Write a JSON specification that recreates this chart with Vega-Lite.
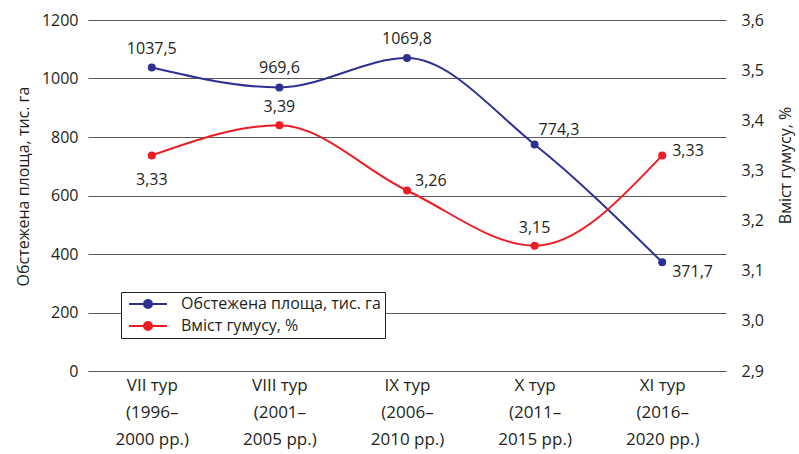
{
  "$schema": "https://vega.github.io/schema/vega-lite/v6.json",
  "width": 638,
  "height": 351,
  "autosize": {"type": "none"},
  "padding": {"left": 88, "top": 20, "right": 73, "bottom": 83},
  "config": {
    "locale": {"number": {"decimal": ",", "thousands": " ", "grouping": [3], "currency": ["", ""]}},
    "font": "Open Sans",
    "view": {"stroke": null},
    "axis": {"labelFontSize": 16, "titleFontSize": 16, "titleFontWeight": "normal", "labelColor": "#231f20", "titleColor": "#231f20", "domain": false, "ticks": false, "titleFont": "Open Sans", "labelFont": "Open Sans"},
    "text": {"font": "Open Sans", "fontSize": 16, "color": "#231f20"}
  },
  "data": {
    "values": [
      {"round": "VII", "tour": "VII тур\n(1996–\n2000 рр.)", "series": "Обстежена площа, тис. га", "value": 1037.5},
      {"round": "VIII", "tour": "VIII тур\n(2001–\n2005 рр.)", "series": "Обстежена площа, тис. га", "value": 969.6},
      {"round": "IX", "tour": "IX тур\n(2006–\n2010 рр.)", "series": "Обстежена площа, тис. га", "value": 1069.8},
      {"round": "X", "tour": "X тур\n(2011–\n2015 рр.)", "series": "Обстежена площа, тис. га", "value": 774.3},
      {"round": "XI", "tour": "XI тур\n(2016–\n2020 рр.)", "series": "Обстежена площа, тис. га", "value": 371.7},
      {"round": "VII", "tour": "VII тур\n(1996–\n2000 рр.)", "series": "Вміст гумусу, %", "value": 3.33},
      {"round": "VIII", "tour": "VIII тур\n(2001–\n2005 рр.)", "series": "Вміст гумусу, %", "value": 3.39},
      {"round": "IX", "tour": "IX тур\n(2006–\n2010 рр.)", "series": "Вміст гумусу, %", "value": 3.26},
      {"round": "X", "tour": "X тур\n(2011–\n2015 рр.)", "series": "Вміст гумусу, %", "value": 3.15},
      {"round": "XI", "tour": "XI тур\n(2016–\n2020 рр.)", "series": "Вміст гумусу, %", "value": 3.33}
    ]
  },
  "encoding": {
    "x": {
      "field": "tour", "type": "nominal", "sort": null,
      "scale": {"type": "point", "padding": 0.5},
      "axis": {"title": null, "labelAngle": 0, "labelExpr": "split(datum.label, '\\n')", "labelLineHeight": 27, "labelPadding": 6, "grid": false, "labelBaseline": "top", "labelFontSize": 17}
    }
  },
  "layer": [
    {
      "transform": [{"filter": {"field": "series", "equal": "Обстежена площа, тис. га"}}],
      "encoding": {
        "y": {
          "field": "value", "type": "quantitative",
          "scale": {"domain": [0, 1200], "nice": false},
          "axis": {"orient": "left", "title": "Обстежена площа, тис. га", "values": [0, 200, 400, 600, 800, 1000, 1200], "format": "d", "grid": true, "gridColor": "#58595b", "gridWidth": 1, "labelPadding": 10, "titlePadding": 10, "titleY": 166}
        }
      },
      "layer": [
        {
          "mark": {"type": "line", "interpolate": "monotone", "strokeWidth": 2},
          "encoding": {
            "color": {
              "field": "series", "type": "nominal",
              "scale": {"domain": ["Обстежена площа, тис. га", "Вміст гумусу, %"], "range": ["#2e3192", "#ed1c24"]},
              "legend": {
                "title": null, "orient": "none", "legendX": 33, "legendY": 272,
                "fillColor": "white", "strokeColor": "#231f20", "padding": 4,
                "labelFontSize": 16, "labelFont": "Open Sans", "labelColor": "#231f20", "labelLimit": 400,
                "symbolType": "M-3.8,0H3.8M-0.8,0A0.8,0.8,0,1,0,0.8,0A0.8,0.8,0,1,0,-0.8,0Z",
                "symbolSize": 100, "symbolStrokeWidth": 2, "rowPadding": 6, "symbolOffset": 15, "labelOffset": 25,
                "encode": {"symbols": {"update": {"fill": {"scale": "color", "field": "value"}, "stroke": {"scale": "color", "field": "value"}}}}
              }
            }
          }
        },
        {"mark": {"type": "point", "filled": true, "size": 64, "opacity": 1, "color": "#2e3192"}},
        {
          "transform": [{"filter": {"field": "round", "oneOf": ["VII", "VIII", "IX"]}}],
          "mark": {"type": "text", "dy": -19, "align": "center"},
          "encoding": {"text": {"field": "value", "type": "quantitative", "format": ".1f"}}
        },
        {
          "transform": [{"filter": {"field": "round", "equal": "X"}}],
          "mark": {"type": "text", "dy": -15, "dx": 4, "align": "left"},
          "encoding": {"text": {"field": "value", "type": "quantitative", "format": ".1f"}}
        },
        {
          "transform": [{"filter": {"field": "round", "equal": "XI"}}],
          "mark": {"type": "text", "dy": 10, "dx": 10, "align": "left"},
          "encoding": {"text": {"field": "value", "type": "quantitative", "format": ".1f"}}
        }
      ]
    },
    {
      "transform": [{"filter": {"field": "series", "equal": "Вміст гумусу, %"}}],
      "encoding": {
        "y": {
          "field": "value", "type": "quantitative",
          "scale": {"domain": [2.9, 3.6], "nice": false, "zero": false},
          "axis": {"orient": "right", "title": "Вміст гумусу, %", "values": [2.9, 3.0, 3.1, 3.2, 3.3, 3.4, 3.5, 3.6], "format": ".1f", "grid": false, "labelPadding": 15, "titlePadding": 14, "titleAngle": 270, "titleBaseline": "top", "titleY": 145}
        }
      },
      "layer": [
        {
          "mark": {"type": "line", "interpolate": "monotone", "strokeWidth": 2},
          "encoding": {"color": {"field": "series", "type": "nominal"}}
        },
        {"mark": {"type": "point", "filled": true, "size": 64, "opacity": 1, "color": "#ed1c24"}},
        {
          "transform": [{"filter": {"field": "round", "equal": "VII"}}],
          "mark": {"type": "text", "dy": 25, "align": "center"},
          "encoding": {"text": {"field": "value", "type": "quantitative", "format": ".2f"}}
        },
        {
          "transform": [{"filter": {"field": "round", "oneOf": ["VIII", "X"]}}],
          "mark": {"type": "text", "dy": -18, "align": "center"},
          "encoding": {"text": {"field": "value", "type": "quantitative", "format": ".2f"}}
        },
        {
          "transform": [{"filter": {"field": "round", "equal": "IX"}}],
          "mark": {"type": "text", "dy": -9, "dx": 8, "align": "left"},
          "encoding": {"text": {"field": "value", "type": "quantitative", "format": ".2f"}}
        },
        {
          "transform": [{"filter": {"field": "round", "equal": "XI"}}],
          "mark": {"type": "text", "dy": -4, "dx": 10, "align": "left"},
          "encoding": {"text": {"field": "value", "type": "quantitative", "format": ".2f"}}
        }
      ]
    }
  ],
  "resolve": {"scale": {"y": "independent"}}
}
